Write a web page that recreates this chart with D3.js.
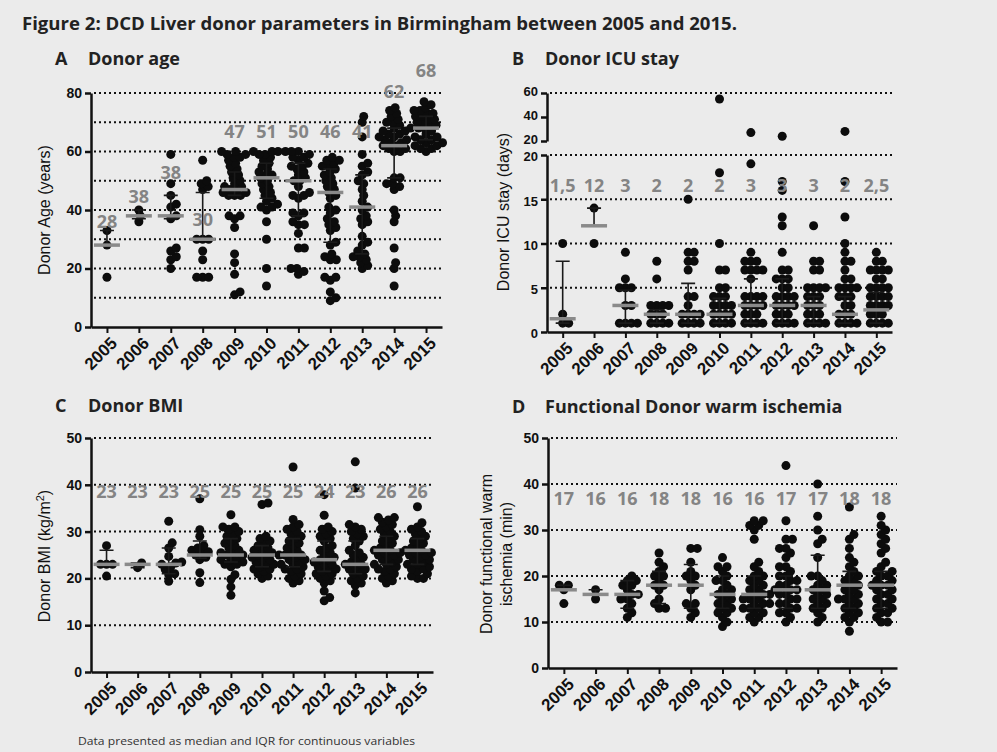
<!DOCTYPE html>
<html>
<head>
<meta charset="utf-8">
<script src="https://cdn.jsdelivr.net/npm/d3@7"></script>
<style>
  html, body { margin: 0; padding: 0; background: #ebebeb; }
  svg { display: block; }
</style>
</head>
<body>
<svg id="fig" width="997" height="752"></svg>
<script>
// ---------- categories ----------
const years = ["2005", "2006", "2007", "2008", "2009", "2010", "2011", "2012", "2013", "2014", "2015"];

// ---------- A: donor age (years) ----------
const ageValues = [
  [17, 28, 33],
  [36, 38, 40],
  [20, 23, 24, 26, 27, 37, 38, 41, 42, 45, 49, 59],
  [17, 17, 17, 23, 26, 30, 30, 30, 47, 48, 49, 50, 57],
  [11, 12, 18, 22, 25, 34, 37, 38, 38, 45, 45, 45, 46, 46, 47, 47, 48, 48, 49, 50, 51, 52, 53, 54, 55, 56, 57, 58, 58, 59, 59, 60, 60],
  [14, 20, 30, 36, 40, 41, 41, 42, 43, 44, 45, 46, 47, 48, 49, 50, 51, 52, 52, 53, 54, 55, 56, 57, 58, 59, 59, 60, 60, 60],
  [18, 19, 20, 20, 27, 27, 32, 35, 35, 36, 38, 39, 39, 44, 45, 45, 46, 48, 50, 50, 51, 52, 53, 54, 55, 55, 56, 57, 58, 58, 59, 60, 60, 60],
  [9, 10, 12, 16, 17, 17, 23, 23, 24, 25, 28, 29, 33, 34, 35, 36, 37, 39, 40, 41, 44, 45, 46, 47, 48, 49, 50, 51, 52, 53, 54, 55, 55, 56, 57, 57, 58],
  [20, 21, 22, 23, 24, 24, 25, 26, 28, 29, 31, 35, 36, 37, 38, 40, 41, 43, 45, 47, 49, 50, 52, 53, 55, 56, 59, 65, 70, 72],
  [14, 20, 22, 27, 36, 38, 40, 47, 48, 49, 49, 51, 51, 60, 60, 61, 61, 62, 62, 63, 63, 64, 64, 65, 65, 66, 66, 67, 67, 68, 68, 69, 70, 70, 71, 72, 73, 74, 75],
  [60, 61, 61, 62, 62, 63, 63, 64, 64, 65, 65, 66, 67, 68, 68, 69, 69, 70, 70, 71, 71, 72, 72, 73, 73, 74, 74, 75, 76, 77]
];
const ageMedian = [28, 38, 38, 30, 47, 51, 50, 46, 41, 62, 68];
const ageQ1 = [28, 37, 37, 30, 45, 44, 38, 29, 25, 51, 64];
const ageQ3 = [33, 40, 45, 46, 53, 56, 56, 54, 52, 68, 72];
const ageLabelAt = [36, 44.5, 52.8, 36.6, 66.8, 66.8, 66.8, 66.8, 66.8, 80.4, 87.6];
const ageTicks = [0, 20, 40, 60, 80];
const ageGrid = [10, 20, 30, 40, 50, 60, 70, 80];

// ---------- B: donor ICU stay (days) ----------
const icuValues = [
  [1, 1, 2, 10],
  [10, 14],
  [1, 1, 1, 1, 3, 3, 5, 5, 5, 6, 9],
  [1, 1, 1, 1, 2, 2, 2, 3, 3, 3, 3, 6, 8],
  [1, 1, 1, 1, 2, 2, 2, 2, 3, 4, 4, 7, 8, 8, 9, 9, 15],
  [1, 1, 1, 1, 2, 2, 2, 2, 3, 3, 3, 3, 4, 4, 4, 5, 5, 7, 7, 10, 18, 55],
  [1, 1, 1, 1, 2, 2, 2, 3, 3, 3, 3, 4, 4, 4, 4, 6, 7, 7, 7, 7, 8, 8, 8, 9, 19, 27],
  [1, 1, 1, 1, 2, 2, 2, 3, 3, 3, 3, 4, 4, 4, 4, 5, 5, 6, 6, 6, 7, 7, 9, 12, 13, 16, 17, 24],
  [1, 1, 1, 1, 2, 2, 2, 3, 3, 3, 4, 4, 4, 5, 5, 5, 5, 7, 7, 8, 8, 12],
  [1, 1, 1, 1, 2, 2, 2, 3, 3, 4, 4, 4, 5, 5, 5, 5, 6, 6, 7, 8, 8, 9, 10, 13, 17, 28],
  [1, 1, 1, 1, 2, 2, 2, 3, 3, 3, 3, 4, 4, 4, 4, 5, 5, 5, 5, 6, 6, 7, 7, 7, 7, 8, 8, 9]
];
const icuMedian = [1.5, 12, 3, 2, 2, 2, 3, 3, 3, 2, 2.5];
const icuQ1 = [1, 12, 1, 1, 1, 1, 1, 1, 1, 1, 1];
const icuQ3 = [8, 14, 4.7, 2.5, 5.5, 3.8, 6, 6, 4, 4, 4.5];
const icuLabelAt = [16.6, 16.6, 16.6, 16.6, 16.6, 16.6, 16.6, 16.6, 16.6, 16.6, 16.6];
const icuTicksLow = [0, 5, 10, 15, 20];
const icuTicksHigh = [20, 40, 60];
const icuGrid = [5, 10, 15, 20, 60];

// ---------- C: donor BMI (kg/m2) ----------
const bmiValues = [
  [20.5, 23, 23, 23, 27],
  [22.3, 23.3],
  [19.4, 20.8, 21, 21.9, 22.5, 23, 23.3, 23.5, 24.7, 26.5, 27.6, 32.2],
  [19.1, 21.2, 24, 24.5, 25, 25.5, 25.7, 26, 26.5, 27, 29, 30.4, 37],
  [16.4, 18.2, 19.8, 20.8, 22.5, 23, 23, 23.5, 24, 24, 24.5, 25, 25, 25.5, 25.5, 26, 26.5, 27, 27.5, 28, 28.5, 29, 29.5, 30, 30.5, 31, 31, 33.6],
  [20, 20.5, 21, 21.5, 22, 22, 22.5, 23, 23, 23.5, 24, 24, 24.5, 25, 25, 25.5, 26, 26, 26.5, 27, 27.5, 28, 28.5, 29, 35.8, 36.1],
  [19, 19.5, 20, 20.5, 21, 21.5, 22, 22, 22.5, 23, 23, 23.5, 24, 24, 24.5, 25, 25, 25, 25.5, 26, 26.5, 27, 27.5, 28, 28.5, 29, 29.5, 30, 30.5, 31, 31.5, 32.6, 43.8],
  [15.2, 15.9, 17.3, 19, 19.5, 20, 20.5, 21, 21, 21.5, 22, 22, 22.5, 23, 23, 23.5, 24, 24, 24.5, 25, 25.5, 26, 26.5, 27, 28, 28.5, 29, 29.5, 30, 30.5, 31, 33.5, 37.9],
  [16.9, 18.5, 19, 19.5, 20, 20.5, 21, 21.5, 22, 22, 22.5, 23, 23, 23.5, 24, 24.5, 25, 25.5, 26, 27, 28, 28.5, 29, 29.5, 30, 30.5, 31, 31.5, 39.3, 44.9],
  [19, 19.5, 20, 20.5, 21, 21.5, 22, 22, 22.5, 23, 23, 23.5, 24, 24, 24.5, 25, 25, 25.5, 25.5, 26, 26, 26.5, 27, 27.5, 28, 28.5, 29, 29.5, 30, 30.5, 31, 31.5, 32, 32.5, 33, 33],
  [20, 20, 20.5, 21, 21.5, 22, 22, 22.5, 23, 23, 23.5, 24, 24, 24.5, 25, 25, 25.5, 25.5, 26, 26, 26.5, 27, 27.5, 28, 28.5, 29, 29.5, 30, 30.5, 31, 31.9, 35.3]
];
const bmiMedian = [23, 23, 23, 25, 25, 25, 25, 24, 23, 26, 26];
const bmiQ1 = [23, 22.3, 21, 24.3, 23.5, 22.5, 22.5, 21.5, 21, 23, 23];
const bmiQ3 = [26, 23.3, 26.5, 28, 28.5, 27, 28.5, 28, 28, 29, 28.5];
const bmiLabelAt = [38.5, 38.5, 38.5, 38.5, 38.5, 38.5, 38.5, 38.5, 38.5, 38.5, 38.5];
const bmiTicks = [0, 10, 20, 30, 40, 50];
const bmiGrid = [10, 20, 30, 40, 50];

// ---------- D: functional donor warm ischemia (min) ----------
const warmValues = [
  [14, 17, 18, 18],
  [15, 17],
  [11, 12, 13, 14, 15, 15, 16, 16, 17, 18, 18, 19, 19, 20],
  [13, 13, 14, 15, 17, 18, 18, 19, 20, 20, 21, 22, 23, 25],
  [11, 12, 13, 14, 14, 17, 18, 19, 20, 20, 21, 23, 26, 26],
  [9, 10, 11, 12, 12, 13, 13, 14, 14, 15, 15, 16, 16, 17, 17, 18, 19, 19, 20, 21, 22, 22, 24],
  [10, 11, 11, 12, 12, 13, 13, 13, 14, 14, 14, 15, 15, 15, 16, 16, 16, 17, 17, 18, 18, 19, 19, 20, 20, 21, 22, 23, 28, 30, 31, 31, 32, 32],
  [10, 11, 12, 12, 13, 13, 14, 14, 15, 15, 16, 16, 17, 17, 17, 18, 18, 19, 19, 20, 20, 21, 22, 22, 24, 25, 26, 26, 28, 28, 32, 44],
  [10, 11, 12, 13, 13, 14, 14, 15, 15, 16, 16, 17, 17, 18, 18, 19, 20, 20, 24, 27, 28, 30, 33, 40],
  [8, 10, 11, 11, 12, 12, 13, 13, 14, 14, 15, 15, 15, 16, 16, 17, 17, 18, 18, 19, 19, 20, 20, 21, 22, 23, 24, 26, 28, 29, 35],
  [10, 10, 11, 12, 12, 13, 13, 14, 14, 15, 15, 16, 16, 17, 17, 18, 18, 18, 19, 19, 20, 20, 21, 21, 22, 23, 25, 26, 27, 28, 29, 30, 31, 33]
];
const warmMedian = [17, 16, 16, 18, 18, 16, 16, 17, 17, 18, 18];
const warmQ1 = [17, 16, 13, 14, 13, 13, 13, 13, 13, 13, 13];
const warmQ3 = [18, 17, 19, 21, 22.5, 20, 20, 20, 24.5, 21, 21];
const warmLabelAt = [36.8, 36.8, 36.8, 36.8, 36.8, 36.8, 36.8, 36.8, 36.8, 36.8, 36.8];
const warmTicks = [0, 10, 20, 30, 40, 50];
const warmGrid = [10, 20, 30, 40, 50];

// ---------- drawing ----------
const svg = d3.select("#fig");
const AXIS_FONT = "'Liberation Sans', Arial, sans-serif";
const HEAD_FONT = "'Open Sans', 'Noto Sans', sans-serif";
const INK = "#111";
const DOT_R = 4.5;

svg.append("rect").attr("width", 997).attr("height", 752).attr("fill", "#ebebeb");

svg.append("text")
  .attr("x", 22).attr("y", 30)
  .attr("font-family", HEAD_FONT).attr("font-weight", 700).attr("font-size", 18)
  .attr("fill", "#222")
  .attr("textLength", 715).attr("lengthAdjust", "spacingAndGlyphs")
  .text("Figure 2: DCD Liver donor parameters in Birmingham between 2005 and 2015.");

svg.append("text")
  .attr("x", 78).attr("y", 745)
  .attr("font-family", HEAD_FONT).attr("font-size", 11.5).attr("fill", "#333")
  .attr("textLength", 337).attr("lengthAdjust", "spacingAndGlyphs")
  .text("Data presented  as median and IQR for continuous variables");

// Beeswarm layout: each dot is pushed sideways until it clears the dots already placed.
function swarm(values, yf, minDist) {
  const pts = values.map(v => ({ v, py: yf(v) })).sort((a, b) => a.v - b.v);
  const placed = [];
  for (const p of pts) {
    let off = 0;
    for (let k = 0; k < 400; k++) {
      const cand = (k % 2 === 1 ? 1 : -1) * Math.ceil(k / 2) * 0.5;
      const ok = placed.every(q => (q.dx - cand) ** 2 + (q.py - p.py) ** 2 >= minDist * minDist);
      if (ok) { off = cand; break; }
    }
    p.dx = off;
    placed.push(p);
  }
  return pts;
}

function drawPanel(p) {
  const g = svg.append("g");
  const x = d3.scalePoint().domain(years).range([p.left, p.right]).padding(0.5);
  const y = p.y;
  const baseY = y(0);

  // heading
  g.append("text").attr("x", p.headX).attr("y", p.headY)
    .attr("font-family", HEAD_FONT).attr("font-weight", 700).attr("font-size", 18).attr("fill", "#222")
    .text(p.letter);
  g.append("text").attr("x", p.headX + 33).attr("y", p.headY)
    .attr("font-family", HEAD_FONT).attr("font-weight", 700).attr("font-size", 18).attr("fill", "#222")
    .text(p.title);

  // dotted gridlines
  g.append("g").selectAll("line").data(p.grid).join("line")
    .attr("x1", p.left + 3).attr("x2", p.right)
    .attr("y1", d => y(d)).attr("y2", d => y(d))
    .attr("stroke", INK).attr("stroke-width", 2).attr("stroke-dasharray", "2 3");

  // y axes (one or more segments)
  p.axes.forEach(a => {
    const ax = g.append("g").attr("transform", `translate(${p.left},0)`)
      .call(d3.axisLeft(a.scale).tickValues(a.ticks).tickSize(6).tickSizeOuter(0).tickPadding(3));
    ax.select(".domain").attr("stroke", INK).attr("stroke-width", 2.5);
    ax.selectAll(".tick line").attr("stroke", INK).attr("stroke-width", 2.5);
    ax.selectAll(".tick text").attr("font-family", AXIS_FONT).attr("font-weight", 700)
      .attr("font-size", p.tickFont || 14).attr("fill", INK)
      .attr("dy", a.dy || "0.32em");
  });

  // x axis
  const xa = g.append("g").attr("transform", `translate(0,${baseY})`)
    .call(d3.axisBottom(x).tickSize(6).tickSizeOuter(0).tickFormat(""));
  xa.select(".domain").attr("stroke", INK).attr("stroke-width", 2.5);
  xa.selectAll(".tick line").attr("stroke", INK).attr("stroke-width", 2);
  g.append("g").selectAll("text").data(years).join("text")
    .attr("transform", d => `translate(${x(d) + 7},${baseY + 13}) rotate(-45)`)
    .attr("text-anchor", "end").attr("dy", "0.35em")
    .attr("font-family", AXIS_FONT).attr("font-weight", 700).attr("font-size", 17).attr("fill", INK)
    .text(d => d);

  // y axis title
  const yt = g.append("text")
    .attr("transform", `translate(${p.yTitleX},${p.yTitleY}) rotate(-90)`)
    .attr("text-anchor", "middle").attr("font-family", AXIS_FONT).attr("font-size", 16).attr("fill", INK);
  p.yTitle(yt);

  // dots
  years.forEach((yr, i) => {
    const pts = swarm(p.values[i], y, p.minDist);
    g.append("g").selectAll("circle").data(pts).join("circle")
      .attr("cx", d => x(yr) + d.dx).attr("cy", d => d.py).attr("r", DOT_R).attr("fill", "#0c0c0c");
  });

  // IQR whiskers
  const cap = 7;
  g.append("g").selectAll("path").data(years).join("path")
    .attr("d", (yr, i) => {
      const cx = x(yr), m = y(p.median[i]), lo = y(p.q1[i]), hi = y(p.q3[i]);
      let s = "";
      if (p.q3[i] > p.median[i]) s += `M${cx},${m}V${hi}M${cx - cap},${hi}H${cx + cap}`;
      if (p.q1[i] < p.median[i]) s += `M${cx},${m}V${lo}M${cx - cap},${lo}H${cx + cap}`;
      return s || null;
    })
    .attr("fill", "none").attr("stroke", "#1a1a1a").attr("stroke-width", 1.6);

  // median bars
  g.append("g").selectAll("line").data(years).join("line")
    .attr("x1", yr => x(yr) - 13).attr("x2", yr => x(yr) + 13)
    .attr("y1", (yr, i) => y(p.median[i])).attr("y2", (yr, i) => y(p.median[i]))
    .attr("stroke", "#8a8a8a").attr("stroke-width", 3.5);

  // median value labels
  g.append("g").selectAll("text").data(years).join("text")
    .attr("x", yr => x(yr)).attr("y", (yr, i) => y(p.labelAt[i]))
    .attr("dy", "0.36em").attr("text-anchor", "middle")
    .attr("font-family", HEAD_FONT).attr("font-weight", 700).attr("font-size", 18).attr("fill", "#848484")
    .text((yr, i) => String(p.median[i]).replace(".", ","));
}

// A
const yAge = d3.scaleLinear().domain([0, 80]).range([327, 93]);
drawPanel({
  letter: "A", title: "Donor age", headX: 55, headY: 65,
  left: 91, right: 442, y: yAge,
  axes: [{ scale: yAge, ticks: ageTicks }], grid: ageGrid,
  values: ageValues, median: ageMedian, q1: ageQ1, q3: ageQ3, labelAt: ageLabelAt,
  minDist: 6, yTitleX: 50, yTitleY: 210,
  yTitle: t => t.text("Donor Age (years)")
});

// B (broken axis: 0-20 below, 20-60 compressed above)
const yIcuLow = d3.scaleLinear().domain([0, 20]).range([332, 155]);
const yIcuHigh = d3.scaleLinear().domain([20, 60]).range([141, 93]);
const yIcu = v => (v > 20 ? yIcuHigh(v) : yIcuLow(v));
drawPanel({
  letter: "B", title: "Donor ICU stay", headX: 512, headY: 65,
  left: 547, right: 892, y: yIcu, tickFont: 13,
  axes: [{ scale: yIcuLow, ticks: icuTicksLow, dy: "0.45em" }, { scale: yIcuHigh, ticks: icuTicksHigh, dy: "0.2em" }],
  grid: icuGrid,
  values: icuValues, median: icuMedian, q1: icuQ1, q3: icuQ3, labelAt: icuLabelAt,
  minDist: 5.8, yTitleX: 509, yTitleY: 212,
  yTitle: t => t.text("Donor ICU stay (days)")
});

// C
const yBmi = d3.scaleLinear().domain([0, 50]).range([672, 438]);
drawPanel({
  letter: "C", title: "Donor BMI", headX: 55, headY: 412,
  left: 91, right: 433, y: yBmi,
  axes: [{ scale: yBmi, ticks: bmiTicks }], grid: bmiGrid,
  values: bmiValues, median: bmiMedian, q1: bmiQ1, q3: bmiQ3, labelAt: bmiLabelAt,
  minDist: 6, yTitleX: 50, yTitleY: 556,
  yTitle: t => {
    t.append("tspan").text("Donor BMI (kg/m");
    t.append("tspan").attr("font-size", 11).attr("dy", -6).text("2");
    t.append("tspan").attr("dy", 6).text(")");
  }
});

// D
const yWarm = d3.scaleLinear().domain([0, 50]).range([668, 438]);
drawPanel({
  letter: "D", title: "Functional Donor warm ischemia", headX: 512, headY: 413,
  left: 548, right: 897, y: yWarm,
  axes: [{ scale: yWarm, ticks: warmTicks }], grid: warmGrid,
  values: warmValues, median: warmMedian, q1: warmQ1, q3: warmQ3, labelAt: warmLabelAt,
  minDist: 6.2, yTitleX: 492, yTitleY: 554,
  yTitle: t => {
    t.append("tspan").attr("x", 0).attr("dy", 0).text("Donor functional warm");
    t.append("tspan").attr("x", 0).attr("dy", 20).text("ischemia (min)");
  }
});
</script>
</body>
</html>
